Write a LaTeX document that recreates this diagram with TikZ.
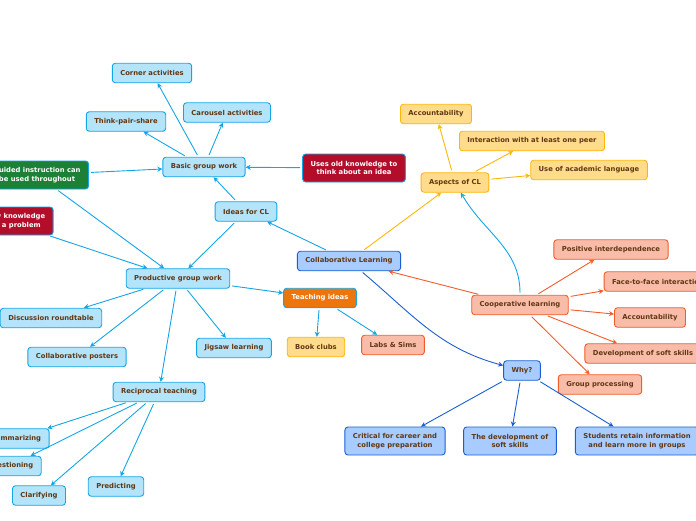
\documentclass[tikz,border=0pt]{standalone}
\usepackage{fontspec}
\setmainfont{DejaVu Sans}
\usepackage{tikz}
\usetikzlibrary{positioning,arrows.meta,calc}

\definecolor{cyanline}{RGB}{20,165,230}
\definecolor{cyanfill}{RGB}{180,228,250}
\definecolor{blueline}{RGB}{25,95,210}
\definecolor{bluefill}{RGB}{168,204,255}
\definecolor{yelline}{RGB}{255,182,10}
\definecolor{yelfill}{RGB}{255,220,140}
\definecolor{salline}{RGB}{242,92,42}
\definecolor{salfill}{RGB}{249,188,168}
\definecolor{txtbrown}{RGB}{95,55,20}
\definecolor{redfill}{RGB}{178,14,42}
\definecolor{greenfill}{RGB}{28,128,55}
\definecolor{orangefill}{RGB}{236,118,12}

\begin{document}
\begin{tikzpicture}[
x=1pt, y=1pt,
topic/.style={
  draw,
  rounded corners=3pt,
  line width=0.9pt,
  font=\fontsize{6.8}{8.4}\selectfont\bfseries,
  text=txtbrown,
  align=center,
  inner xsep=8pt,
  inner ysep=3pt,
  minimum height=19.5pt},
twoline/.style={minimum height=28pt},
cyanbox/.style={topic, draw=cyanline, fill=cyanfill},
bluebox/.style={topic, draw=blueline, fill=bluefill},
yelbox/.style={topic, draw=yelline, fill=yelfill},
salbox/.style={topic, draw=salline, fill=salfill},
darkbox/.style={topic, draw=cyanline, text=white},
link/.style={
  line width=0.9pt,
  shorten <=2pt,
  -{Stealth[length=5pt,width=5pt]}}
]
\useasboundingbox (0,0) rectangle (696,-520);

% left branch
\node[cyanbox] (corner) at (152,-73) {Corner activities};
\node[cyanbox] (carousel) at (227,-112.5) {Carousel activities};
\node[cyanbox] (think) at (126,-121.5) {Think-pair-share};
\node[cyanbox] (basic) at (204,-167) {Basic group work};
\node[darkbox, twoline, fill=redfill] (usesold) at (354,-168) {Uses old knowledge to\\think about an idea};
\node[darkbox, twoline, fill=greenfill] (guided) at (37,-175) {Guided instruction can\\be used throughout};
\node[darkbox, twoline, fill=redfill] (usesnew) at (5,-221) {Uses new knowledge\\to solve a problem};
\node[cyanbox] (ideas) at (246,-211.5) {Ideas for CL};
\node[cyanbox] (productive) at (178,-278.5) {Productive group work};
\node[cyanbox] (discussion) at (51,-318) {Discussion roundtable};
\node[cyanbox] (posters) at (77,-357) {Collaborative posters};
\node[cyanbox] (jigsaw) at (234,-348) {Jigsaw learning};
\node[darkbox, fill=orangefill] (teaching) at (320,-298) {Teaching ideas};
\node[yelbox] (books) at (316,-347) {Book clubs};
\node[salbox] (labs) at (393,-345) {Labs \& Sims};
\node[cyanbox] (reciprocal) at (159,-392) {Reciprocal teaching};
\node[cyanbox] (summ) at (16,-438.5) {Summarizing};
\node[cyanbox] (quest) at (10,-466) {Questioning};
\node[cyanbox] (clar) at (39,-495.5) {Clarifying};
\node[cyanbox] (pred) at (116,-486.5) {Predicting};

% centre
\node[bluebox] (collab) at (349,-261) {Collaborative Learning};

% right branch
\node[yelbox] (aspects) at (455,-182.5) {Aspects of CL};
\node[yelbox] (acc) at (436,-114) {Accountability};
\node[yelbox] (interact) at (532,-141) {Interaction with at least one peer};
\node[yelbox] (academic) at (589,-170) {Use of academic language};
\node[salbox] (coop) at (520,-305) {Cooperative learning};
\node[salbox] (positive) at (611,-249.5) {Positive interdependence};
\node[salbox] (face) at (658,-281.5) {Face-to-face interaction};
\node[salbox] (acctwo) at (650,-317.5) {Accountability};
\node[salbox] (softdev) at (643,-353.5) {Development of soft skills};
\node[salbox] (groupproc) at (600,-384.5) {Group processing};
\node[bluebox] (why) at (522,-370.5) {Why?};
\node[bluebox, twoline] (critical) at (395,-441) {Critical for career and\\college preparation};
\node[bluebox, twoline] (softskills) at (510,-441) {The development of\\soft skills};
\node[bluebox, twoline] (retain) at (637,-441) {Students retain information\\and learn more in groups};

% connectors
\foreach \Hijo in {corner,think,carousel}
  \draw[link, cyanline] (basic) -- (\Hijo);
\foreach \Padre in {ideas,usesold,guided}
  \draw[link, cyanline] (\Padre) -- (basic);
\foreach \Padre in {guided,usesnew,ideas}
  \draw[link, cyanline] (\Padre) -- (productive);
\draw[link, cyanline] (collab) -- (ideas);
\foreach \Hijo in {discussion,posters,jigsaw,reciprocal,teaching}
  \draw[link, cyanline] (productive) -- (\Hijo);
\foreach \Hijo in {books,labs}
  \draw[link, cyanline] (teaching) -- (\Hijo);
\foreach \Hijo in {summ,quest,clar,pred}
  \draw[link, cyanline] (reciprocal) -- (\Hijo);
\draw[link, cyanline] (coop) to[out=90, in=-60] (aspects);

\draw[link, yelline] (collab) -- (aspects);
\foreach \Hijo in {acc,interact,academic}
  \draw[link, yelline] (aspects) -- (\Hijo);

\foreach \Hijo in {collab,positive,face,acctwo,softdev,groupproc}
  \draw[link, salline] (coop) -- (\Hijo);

\draw[link, blueline] (collab) to[out=-40, in=165] (why);
\foreach \Hijo in {critical,softskills,retain}
  \draw[link, blueline] (why) -- (\Hijo);
\end{tikzpicture}
\end{document}
